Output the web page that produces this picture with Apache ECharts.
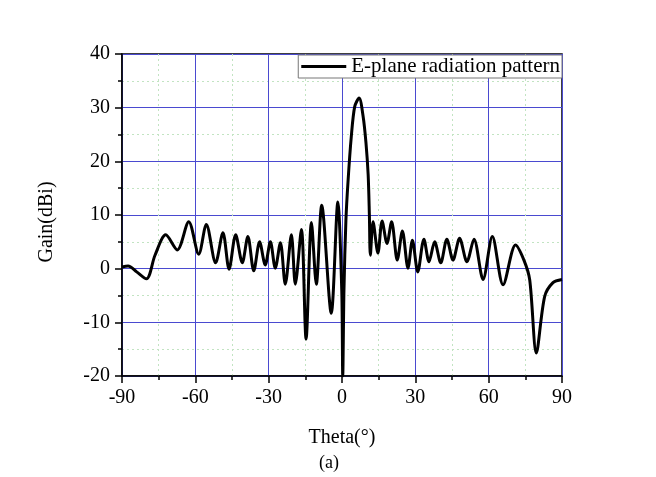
<!DOCTYPE html>
<html>
<head>
<meta charset="utf-8">
<title>E-plane radiation pattern</title>
<script src="https://cdn.jsdelivr.net/npm/echarts@6/dist/echarts.min.js"></script>
<style>
  html, body { margin: 0; padding: 0; background: #fff; }
  #chart { width: 656px; height: 477px; }
</style>
</head>
<body>
<div id="chart"></div>
<script>
// angle (deg) and gain (dBi)
var theta = [
  -90, -87.5, -84, -80, -76.5, -72.1, -67.4, -62.7, -58.6, -55.5,
  -51.7, -48.7, -46.2, -43.5, -40.8, -38.5, -36.1, -33.7, -31.4, -29.3,
  -27.3, -25.2, -23.2, -20.7, -19.1, -16.6, -14.7, -12.5, -10.5, -8.3,
  -4.4, -1.7, -0.1, 0.3, 0.8, 1.6, 2.5, 3.8, 5.2, 7.0,
  8.6, 9.8, 10.7, 11.2, 11.6, 12.7, 14.7, 16.4, 18.4, 20.3, 22.6,
  24.7, 27.0, 28.8, 31.0, 33.5, 35.6, 37.9, 40.4, 42.9, 45.4,
  48.1, 51.1, 54.0, 57.7, 61.5, 65.9, 71.0, 74.5, 76.8, 79.5,
  82.9, 86.3, 90
]
var gain = [
  0.3, 0.5, -0.6, -1.9, 2.5, 6.3, 3.5, 8.75, 2.7, 8.25,
  1.1, 6.7, -0.1, 6.3, 1.1, 6.0, -0.4, 5.0, 0.7, 5.0,
  0.1, 4.85, -2.9, 6.3, -2.9, 7.3, -13.1, 8.6, -2.9, 11.8,
  -8.3, 12.4, -4, -20, -4, 9, 16.5, 24.6, 30.2, 31.8,
  28.5, 23.5, 17.5, 10, 2.5, 8.75, 2.9, 8.9, 4.7, 8.75, 1.6,
  7.0, 0.1, 5.3, -0.6, 5.5, 1.3, 5.0, 1.1, 5.5, 1.6,
  5.65, 1.3, 5.5, -2.0, 6.0, -3.0, 4.4, 1.5, -2.1, -15.7,
  -5.2, -2.6, -2.0
]
var xTicks = [-90, -60, -30, 0, 30, 60, 90]
var yTicks = [-20, -10, 0, 10, 20, 30, 40]

var seriesName = 'E-plane radiation pattern'
var serif = '"Liberation Serif", "Times New Roman", serif'

var points = theta.map(function(t, i) { return [t, gain[i]] })

var chart = echarts.init(document.getElementById('chart'), null, { renderer: 'canvas' })

chart.setOption({
  animation: false,
  backgroundColor: '#fff',
  grid: {
    left: 122,
    right: 94,
    top: 54,
    bottom: 101,
    show: true,
    borderColor: '#000',
    borderWidth: 1.5
  },
  legend: {
    data: [seriesName],
    right: 94,
    top: 55,
    icon: 'rect',
    itemWidth: 45,
    itemHeight: 3,
    itemGap: 2,
    padding: [1, 2, 1, 3],
    borderColor: '#777',
    borderWidth: 1,
    backgroundColor: '#fff',
    textStyle: {
      fontFamily: serif,
      fontSize: 21,
      color: '#000'
    }
  },
  xAxis: {
    type: 'value',
    min: xTicks[0],
    max: xTicks[xTicks.length - 1],
    interval: 30,
    axisLine: { show: true, onZero: false, lineStyle: { color: '#000', width: 1.5 } },
    axisTick: { show: true, inside: false, length: 7, lineStyle: { color: '#000', width: 1.5 } },
    minorTick: { show: true, splitNumber: 2, length: 4, lineStyle: { color: '#000', width: 1.5 } },
    axisLabel: {
      margin: 12,
      fontFamily: serif,
      fontSize: 20,
      color: '#000'
    },
    splitLine: { show: true, lineStyle: { color: '#4a4ad0', width: 1 } },
    minorSplitLine: { show: true, lineStyle: { color: '#c2e4c2', width: 1, type: [2, 3] } }
  },
  yAxis: {
    type: 'value',
    min: yTicks[0],
    max: yTicks[yTicks.length - 1],
    interval: 10,
    axisLine: { show: true, onZero: false, lineStyle: { color: '#000', width: 1.5 } },
    axisTick: { show: true, inside: false, length: 7, lineStyle: { color: '#000', width: 1.5 } },
    minorTick: { show: true, splitNumber: 2, length: 4, lineStyle: { color: '#000', width: 1.5 } },
    axisLabel: {
      margin: 12,
      fontFamily: serif,
      fontSize: 20,
      color: '#000'
    },
    splitLine: { show: true, lineStyle: { color: '#4a4ad0', width: 1 } },
    minorSplitLine: { show: true, lineStyle: { color: '#c2e4c2', width: 1, type: [2, 3] } }
  },
  graphic: [
    {
      type: 'text',
      x: 47,
      y: 222,
      rotation: Math.PI / 2,
      style: {
        text: 'Gain(dBi)',
        font: '20px ' + serif,
        fill: '#000',
        textAlign: 'center',
        textVerticalAlign: 'middle'
      }
    },
    {
      type: 'text',
      x: 342,
      y: 438,
      style: {
        text: 'Theta(°)',
        font: '20px ' + serif,
        fill: '#000',
        textAlign: 'center',
        textVerticalAlign: 'middle'
      }
    },
    {
      type: 'text',
      x: 329,
      y: 463,
      style: {
        text: '(a)',
        font: '18px ' + serif,
        fill: '#000',
        textAlign: 'center',
        textVerticalAlign: 'middle'
      }
    }
  ],
  series: [
    {
      name: seriesName,
      type: 'line',
      data: points,
      smooth: 0.3,
      symbol: 'none',
      clip: true,
      itemStyle: { color: '#000' },
      lineStyle: { color: '#000', width: 3 }
    }
  ]
})
</script>
</body>
</html>
